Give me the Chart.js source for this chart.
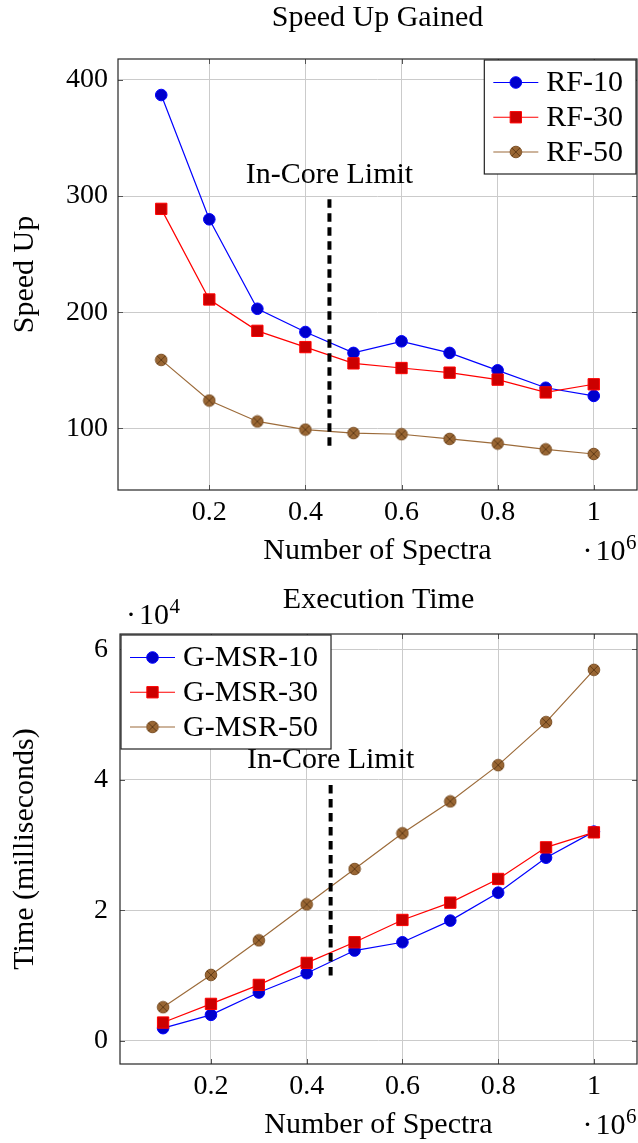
<!DOCTYPE html>
<html><head><meta charset="utf-8">
<script src="https://cdn.jsdelivr.net/npm/chart.js@4/dist/chart.umd.min.js"></script>
<style>
html,body{margin:0;padding:0;background:#fff;width:638px;height:1143px;overflow:hidden}
canvas{position:absolute;left:0}
#c1{top:0}
#c2{top:570px}
</style></head><body>
<canvas id="c1" width="638" height="575"></canvas>
<canvas id="c2" width="638" height="573"></canvas>
<script>
// ---------- data ----------
const spectra = [0.1, 0.2, 0.3, 0.4, 0.5, 0.6, 0.7, 0.8, 0.9, 1.0]; // x 10^6
const xTickValues = [0.2, 0.4, 0.6, 0.8, 1];
const speedTickValues = [100, 200, 300, 400];
const timeTickValues = [0, 20000, 40000, 60000];

const speedLabels = ['RF-10', 'RF-30', 'RF-50'];
const rf10 = [387, 280, 203, 183, 165, 175, 165, 150, 135, 128];
const rf30 = [289, 211, 184, 170, 156, 152, 148, 142, 131, 138];
const rf50 = [159, 124, 106, 99, 96, 95, 91, 87, 82, 78];

const timeLabels = ['G-MSR-10', 'G-MSR-30', 'G-MSR-50'];
const gmsr10 = [1940, 3980, 7400, 10360, 13830, 15100, 18420, 22700, 28060, 32050];
const gmsr30 = [2800, 5660, 8570, 11940, 15100, 18520, 21170, 24800, 29640, 31940];
const gmsr50 = [5150, 10100, 15400, 20900, 26330, 31800, 36680, 42240, 48830, 56840];

const inCoreLimitX = [0.45, 0.45];
const speedLimitY = [85, 298];
const timeLimitY = [10000, 40000];
const inCoreLabel = 'In-Core Limit';

// ---------- styles ----------
const FONT = '"Liberation Serif", "Times New Roman", serif';
const STY = [
  {line: '#0000ff', fill: '#0000cc', shape: 'circle'},
  {line: '#ff0000', fill: '#cc0000', shape: 'rect'},
  {line: '#9c6b3a', fill: '#996633', shape: 'otimes'}
];
const otimesImg = (() => {
  const c = document.createElement('canvas'); c.width = c.height = 14;
  const g = c.getContext('2d');
  g.beginPath(); g.arc(7, 7, 5.8, 0, 2 * Math.PI);
  g.fillStyle = '#996633'; g.fill();
  g.lineWidth = 1; g.strokeStyle = '#7d5127'; g.stroke();
  const d = 4.1;
  g.strokeStyle = '#5a3815'; g.lineWidth = 0.9;
  g.beginPath(); g.moveTo(7 - d, 7 - d); g.lineTo(7 + d, 7 + d);
  g.moveTo(7 + d, 7 - d); g.lineTo(7 - d, 7 + d); g.stroke();
  return c;
})();

function makeDatasets(labels, series, limitY) {
  const ds = series.map((vals, i) => {
    const s = STY[i];
    return {
      label: labels[i],
      data: spectra.map((x, k) => ({x, y: vals[k]})),
      borderColor: s.line, backgroundColor: s.fill,
      borderWidth: 1.2,
      pointStyle: s.shape === 'otimes' ? otimesImg : (s.shape === 'rect' ? 'rect' : 'circle'),
      pointRadius: s.shape === 'rect' ? 8 : 5.8,
      pointBorderColor: s.line, pointBorderWidth: 1,
      pointBackgroundColor: s.fill,
      order: 3 - i,
      tension: 0
    };
  });
  ds.push({
    label: '_limit',
    data: inCoreLimitX.map((x, k) => ({x, y: limitY[k]})),
    borderColor: '#000', borderWidth: 4, borderDash: [8.5, 5.5],
    pointRadius: 0, order: 0, isLimit: true
  });
  return ds;
}

function drawMarker(ctx, shape, x, y, s) {
  if (shape === 'otimes') { ctx.drawImage(otimesImg, x - 7, y - 7); return; }
  ctx.beginPath();
  if (shape === 'rect') { const h = 8 * Math.SQRT1_2; ctx.rect(x - h, y - h, 2 * h, 2 * h); }
  else ctx.arc(x, y, 5.8, 0, 2 * Math.PI);
  ctx.fillStyle = s.fill; ctx.fill();
  ctx.lineWidth = 1; ctx.strokeStyle = s.line; ctx.stroke();
}

const extras = {
  id: 'extras',
  afterDraw(chart, args, o) {
    const ctx = chart.ctx, a = chart.chartArea;
    const xs = chart.scales.x, ys = chart.scales.y;
    ctx.save();
    // inward ticks
    ctx.strokeStyle = '#555'; ctx.lineWidth = 1;
    ctx.beginPath();
    xs.ticks.forEach(t => {
      const p = Math.round(xs.getPixelForValue(t.value)) + 0.5;
      ctx.moveTo(p, a.bottom); ctx.lineTo(p, a.bottom - 5);
      ctx.moveTo(p, a.top); ctx.lineTo(p, a.top + 5);
    });
    ys.ticks.forEach(t => {
      const p = Math.round(ys.getPixelForValue(t.value)) + 0.5;
      ctx.moveTo(a.left, p); ctx.lineTo(a.left + 5, p);
      ctx.moveTo(a.right, p); ctx.lineTo(a.right - 5, p);
    });
    ctx.stroke();
    // frame
    ctx.strokeStyle = '#262626'; ctx.lineWidth = 1.2;
    ctx.strokeRect(a.left, a.top, a.right - a.left, a.bottom - a.top);

    // In-Core Limit label
    const lim = chart.data.datasets.find(d => d.isLimit);
    const topVal = Math.max(lim.data[0].y, lim.data[1].y);
    ctx.fillStyle = '#000';
    ctx.font = '30px ' + FONT;
    ctx.textAlign = 'center'; ctx.textBaseline = 'alphabetic';
    ctx.fillText(inCoreLabel, xs.getPixelForValue(lim.data[0].x), ys.getPixelForValue(topVal) - o.labelGap);

    // legend
    const items = chart.data.datasets.filter(d => !d.isLimit);
    const tw = Math.max(...items.map(d => ctx.measureText(d.label).width));
    const w = 9 + 45 + 8 + tw + 13, h = 114;
    const x0 = o.legendCorner === 'right' ? a.right - 1 - w : a.left + 1;
    const y0 = a.top + 1;
    ctx.fillStyle = '#fff'; ctx.fillRect(x0, y0, w, h);
    ctx.strokeStyle = '#222'; ctx.lineWidth = 1.2; ctx.strokeRect(x0, y0, w, h);
    items.forEach((d, i) => {
      const s = STY[i];
      const cy = y0 + 22.5 + i * 34.75;
      ctx.beginPath(); ctx.moveTo(x0 + 9, cy); ctx.lineTo(x0 + 54, cy);
      ctx.strokeStyle = s.line; ctx.lineWidth = 1.2; ctx.stroke();
      drawMarker(ctx, s.shape, x0 + 31.5, cy, s);
      ctx.fillStyle = '#000'; ctx.textAlign = 'left'; ctx.textBaseline = 'middle';
      ctx.font = '30px ' + FONT;
      ctx.fillText(d.label, x0 + 62, cy + 1);
    });

    // exponent labels
    ctx.textBaseline = 'alphabetic';
    const drawExp = (xRight, xLeft, base, exp) => {
      ctx.font = '30px ' + FONT; ctx.fillStyle = '#000';
      ctx.textAlign = 'left';
      const tenW = ctx.measureText('10').width;
      ctx.font = '21px ' + FONT;
      const eW = ctx.measureText(exp).width;
      let xTen = xRight != null ? xRight - eW - tenW : xLeft;
      ctx.font = '30px ' + FONT;
      ctx.fillText('10', xTen, base);
      ctx.fillText('\u00b7', xTen - 13, base);
      ctx.font = '21px ' + FONT;
      ctx.fillText(exp, xTen + tenW + 0.5, base - 11);
    };
    drawExp(a.right - 1, null, a.bottom + 70, '6');
    if (o.yExp) drawExp(null, a.left + 19, a.top - 10, o.yExp);
    ctx.restore();
  }
};

function noPad(s) { s.paddingLeft = 0; s.paddingRight = 0; s.paddingTop = 0; s.paddingBottom = 0; }

function makeChart(id, cfg) {
  return new Chart(document.getElementById(id), {
    type: 'line',
    data: {datasets: makeDatasets(cfg.labels, cfg.series, cfg.limitY)},
    plugins: [extras],
    options: {
      responsive: false, animation: false, devicePixelRatio: 1,
      layout: {autoPadding: false, padding: {left: 0, right: 1, top: 0, bottom: 0}},
      plugins: {
        legend: {display: false}, tooltip: {enabled: false},
        title: {display: true, text: cfg.title, fullSize: false, color: '#000',
          font: {family: FONT, size: 30, weight: 'normal'}, padding: cfg.titlePad},
        extras: {legendCorner: cfg.legendCorner, labelGap: cfg.labelGap, yExp: cfg.yExp}
      },
      scales: {
        x: {
          type: 'linear', min: 0.01, max: 1.09,
          afterBuildTicks: s => { s.ticks = xTickValues.map(v => ({value: v})); },
          afterFit: s => { s.height = cfg.xHeight; noPad(s); },
          ticks: {color: '#000', font: {family: FONT, size: 28}, padding: 6, maxRotation: 0,
            callback: v => String(v)},
          grid: {color: '#cbcbcb', lineWidth: 1, drawTicks: false},
          border: {display: false},
          title: {display: true, text: 'Number of Spectra', color: '#000',
            font: {family: FONT, size: 30}, padding: {top: 0, bottom: cfg.xTitlePad}}
        },
        y: {
          type: 'linear', min: cfg.ymin, max: cfg.ymax,
          afterBuildTicks: s => { s.ticks = cfg.yTicks.map(v => ({value: v})); },
          afterFit: s => { s.width = cfg.yWidth; noPad(s); },
          ticks: {color: '#000', font: {family: FONT, size: 28}, padding: cfg.yTickPad,
            callback: cfg.yFmt},
          grid: {color: '#cbcbcb', lineWidth: 1, drawTicks: false},
          border: {display: false},
          title: {display: true, text: cfg.yTitle, color: '#000',
            font: {family: FONT, size: 30}, padding: {top: 7, bottom: 0}}
        }
      }
    }
  });
}

makeChart('c1', {
  labels: speedLabels, series: [rf10, rf30, rf50], limitY: speedLimitY,
  title: 'Speed Up Gained', titlePad: {top: 0, bottom: 23},
  ymin: 47, ymax: 418, yTicks: speedTickValues, yFmt: v => String(v),
  yTitle: 'Speed Up', yWidth: 118, yTickPad: 10, xHeight: 85, xTitlePad: 6,
  legendCorner: 'right', labelGap: 15, yExp: null
});
makeChart('c2', {
  labels: timeLabels, series: [gmsr10, gmsr30, gmsr50], limitY: timeLimitY,
  title: 'Execution Time', titlePad: {top: 12, bottom: 16},
  ymin: -3550, ymax: 62330, yTicks: timeTickValues, yFmt: v => String(v / 10000),
  yTitle: 'Time (milliseconds)', yWidth: 120, yTickPad: 12, xHeight: 79, xTitlePad: 0,
  legendCorner: 'left', labelGap: 12, yExp: '4'
});
</script>
</body></html>
